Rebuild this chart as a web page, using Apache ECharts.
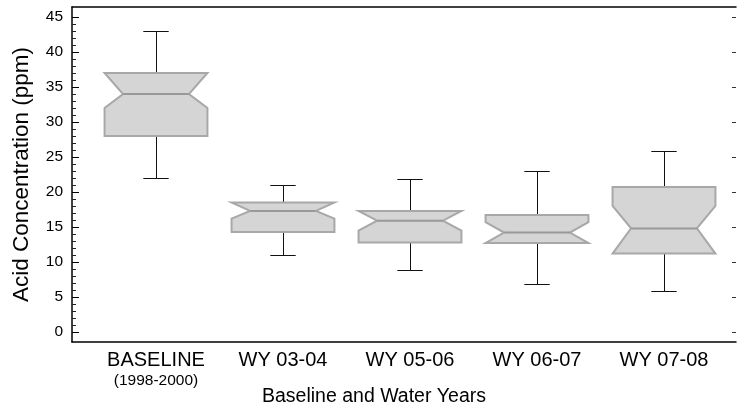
<!DOCTYPE html>
<html>
<head>
<meta charset="utf-8">
<script src="https://cdn.jsdelivr.net/npm/echarts@6/dist/echarts.min.js"></script>
<style>
  html, body { margin: 0; padding: 0; background: #fff; }
  #chart { width: 737px; height: 414px; }
</style>
</head>
<body>
<div id="chart"></div>
<script>
// categories and box statistics
var categories = ['BASELINE', 'WY 03-04', 'WY 05-06', 'WY 06-07', 'WY 07-08'];
var subLabels = ['(1998-2000)', '', '', '', ''];
var lowWhisker = [22, 10.9, 8.8, 6.8, 5.8];
var q1 = [28, 14.3, 12.8, 12.7, 11.2];
var median = [34, 17.3, 15.9, 14.2, 14.8];
var q3 = [37, 18.5, 17.3, 16.7, 20.7];
var highWhisker = [43, 20.9, 21.8, 22.9, 25.8];
// notch limits (already clipped to the box)
var notchLow = [32, 16.2, 14.5, 12.7, 11.2];
var notchHigh = [37, 18.5, 17.3, 15.7, 18.0];
var yTicks = [0, 5, 10, 15, 20, 25, 30, 35, 40, 45];

var boxData = [];
for (var i = 0; i < categories.length; i++) {
    boxData.push([i, lowWhisker[i], q1[i], median[i], q3[i], highWhisker[i], notchLow[i], notchHigh[i]]);
}

var font = 'Liberation Sans, Arial, sans-serif';
var myChart = echarts.init(document.getElementById('chart'));

function crisp(v) { return Math.round(v - 0.5) + 0.5; }

function renderBox(params, api) {
    var idx = api.value(0);
    var band = api.size([1, 0])[0];
    var hw = band * 0.405;   // half box width
    var nw = hw * 0.64;      // half width at the notch
    var cw = band * 0.1;     // half cap width
    var y = function (v) { return api.coord([idx, v])[1]; };
    var cx = api.coord([idx, api.value(3)])[0];
    var lx = crisp(cx);
    var yLo = y(api.value(1)), yQ1 = y(api.value(2)), yMed = y(api.value(3)),
        yQ3 = y(api.value(4)), yHi = y(api.value(5)), yNl = y(api.value(6)), yNh = y(api.value(7));
    var whisker = { stroke: '#111', lineWidth: 1 };
    return {
        type: 'group',
        children: [
            { type: 'line', shape: { x1: lx, y1: crisp(yHi), x2: lx, y2: yQ3 }, style: whisker },
            { type: 'line', shape: { x1: cx - cw, y1: crisp(yHi), x2: cx + cw, y2: crisp(yHi) }, style: whisker },
            { type: 'line', shape: { x1: lx, y1: yQ1, x2: lx, y2: crisp(yLo) }, style: whisker },
            { type: 'line', shape: { x1: cx - cw, y1: crisp(yLo), x2: cx + cw, y2: crisp(yLo) }, style: whisker },
            {
                type: 'polygon',
                shape: {
                    points: [
                        [cx - hw, yQ3], [cx + hw, yQ3], [cx + hw, yNh], [cx + nw, yMed],
                        [cx + hw, yNl], [cx + hw, yQ1], [cx - hw, yQ1], [cx - hw, yNl],
                        [cx - nw, yMed], [cx - hw, yNh]
                    ]
                },
                style: { fill: '#d5d5d5', stroke: '#a8a8a8', lineWidth: 2 }
            },
            { type: 'line', shape: { x1: cx - nw, y1: yMed, x2: cx + nw, y2: yMed }, style: { stroke: '#999', lineWidth: 2 } }
        ]
    };
}

var option = {
    animation: false,
    title: {
        text: 'Baseline and Water Years',
        left: 262,
        top: 387,
        padding: 0,
        textStyle: { fontFamily: font, fontSize: 19.5, fontWeight: 'normal', color: '#000' }
    },
    grid: [
        // frame
        { left: 72, right: 1, top: 7, bottom: 72 },
        // data area
        { left: 92.5, right: 9.5, top: 17, bottom: 82 }
    ],
    xAxis: [
        {
            type: 'value', gridIndex: 0, position: 'bottom', min: 0, max: 1,
            axisLine: { show: true, lineStyle: { color: '#000', width: 1.5 } },
            axisTick: { show: false }, axisLabel: { show: false }, splitLine: { show: false }
        },
        {
            type: 'value', gridIndex: 0, position: 'top', min: 0, max: 1,
            axisLine: { show: true, lineStyle: { color: '#000', width: 1.5 } },
            axisTick: { show: false }, axisLabel: { show: false }, splitLine: { show: false }
        },
        {
            type: 'category', gridIndex: 1, data: categories, offset: 10,
            axisLine: { show: false }, axisTick: { show: false },
            axisLabel: {
                margin: 7,
                interval: 0,
                formatter: function (v, i) {
                    return subLabels[i] ? '{a|' + v + '}\n{b|' + subLabels[i] + '}' : '{a|' + v + '}';
                },
                rich: {
                    a: { fontFamily: font, fontSize: 20, lineHeight: 22, color: '#000' },
                    b: { fontFamily: font, fontSize: 15.5, lineHeight: 20, color: '#000' }
                }
            }
        }
    ],
    yAxis: [
        {
            type: 'value', gridIndex: 0, min: 0, max: 1,
            name: 'Acid Concentration (ppm)',
            nameLocation: 'middle',
            nameGap: 39,
            nameTextStyle: { fontFamily: font, fontSize: 22.5, color: '#000' },
            axisLine: { show: true, lineStyle: { color: '#000', width: 1.5 } },
            axisTick: { show: false }, axisLabel: { show: false }, splitLine: { show: false }
        },
        {
            type: 'value', gridIndex: 1, position: 'left', offset: 20.5,
            min: yTicks[0], max: yTicks[yTicks.length - 1], interval: 5,
            axisLine: { show: false },
            axisTick: { show: true, inside: true, length: 7, lineStyle: { color: '#000' } },
            minorTick: { show: true, splitNumber: 5, length: 4, lineStyle: { color: '#222' } },
            axisLabel: { margin: 9, fontFamily: font, fontSize: 15.5, color: '#000' },
            splitLine: { show: false }
        },
        {
            type: 'value', gridIndex: 1, position: 'right', offset: 8.5,
            min: yTicks[0], max: yTicks[yTicks.length - 1], interval: 5,
            axisLine: { show: false },
            axisTick: { show: true, inside: true, length: 4, lineStyle: { color: '#333' } },
            axisLabel: { show: false },
            splitLine: { show: false }
        }
    ],
    series: [{
        type: 'custom',
        xAxisIndex: 2,
        yAxisIndex: 1,
        renderItem: renderBox,
        encode: { x: 0, y: [1, 2, 3, 4, 5] },
        data: boxData
    }]
};

option && myChart.setOption(option);
</script>
</body>
</html>
